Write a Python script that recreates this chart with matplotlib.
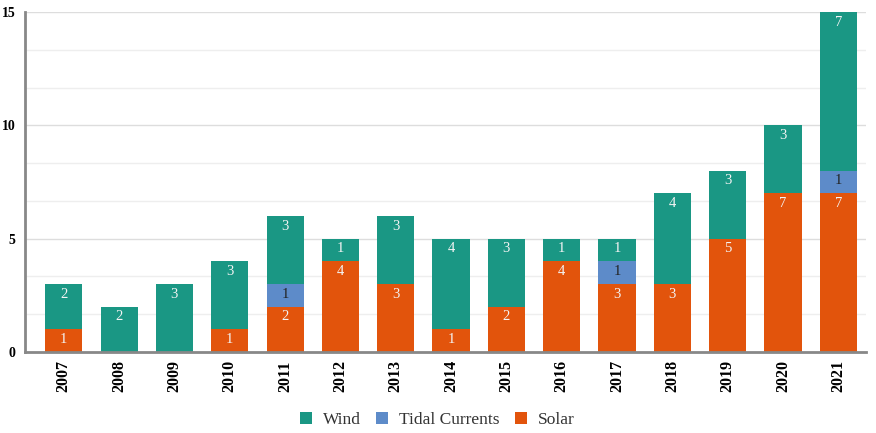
import matplotlib
matplotlib.use("Agg")
import matplotlib.pyplot as plt
import numpy as np

years = ["2007", "2008", "2009", "2010", "2011", "2012", "2013", "2014",
         "2015", "2016", "2017", "2018", "2019", "2020", "2021"]
solar = [1, 0, 0, 1, 2, 4, 3, 1, 2, 4, 3, 3, 5, 7, 7]
tidal = [0, 0, 0, 0, 1, 0, 0, 0, 0, 0, 1, 0, 0, 0, 1]
wind = [2, 2, 3, 3, 3, 1, 3, 4, 3, 1, 1, 4, 3, 3, 7]

c_wind = "#1a9784"
c_tidal = "#5d8bc9"
c_solar = "#e2540c"

plt.rcParams["font.family"] = ["Liberation Serif", "DejaVu Serif"]

fig = plt.figure(figsize=(8.76, 4.33), dpi=100)
ax = fig.add_axes([25 / 876, 1 - 352 / 433, 841 / 876, 340 / 433])

x = np.arange(len(years))
w = 0.67
solar_a = np.array(solar)
tidal_a = np.array(tidal)
wind_a = np.array(wind)

series = [
    ("Solar", solar_a, np.zeros(len(years)), c_solar, "#f4f4f4"),
    ("Tidal Currents", tidal_a, solar_a, c_tidal, "#222222"),
    ("Wind", wind_a, solar_a + tidal_a, c_wind, "#f4f4f4"),
]
handles = {}
for name, vals, bottom, col, tcol in series:
    bars = ax.bar(x, vals, w, bottom=bottom, color=col, zorder=3, label=name)
    handles[name] = bars
    for xi, v, b in zip(x, vals, bottom):
        if v > 0:
            ax.text(xi, b + v - 0.45, str(v), ha="center", va="center",
                    color=tcol, fontsize=10.5, zorder=4)

ax.set_xlim(-0.7, 14.5)
ax.set_ylim(0, 15)
ax.set_yticks([0, 5, 10, 15])
ax.set_yticks(np.arange(0, 15.01, 5 / 3), minor=True)
ax.yaxis.grid(True, which="major", color="#dddddd", linewidth=1.0, zorder=0)
ax.yaxis.grid(True, which="minor", color="#eeeeee", linewidth=1.0, zorder=0)
ax.tick_params(axis="y", which="both", length=0, pad=7, labelsize=10)
ax.set_xticks(x)
ax.set_xticklabels(years, rotation=90, fontsize=11.5, fontweight="bold")
for lab in ax.get_yticklabels():
    lab.set_fontweight("bold")
ax.tick_params(axis="x", length=0, pad=6)

for s in ["top", "right"]:
    ax.spines[s].set_visible(False)
ax.spines["left"].set_color("#888888")
ax.spines["left"].set_linewidth(2)
ax.spines["bottom"].set_color("#888888")
ax.spines["bottom"].set_linewidth(2)
ax.spines["left"].set_zorder(5)
ax.spines["bottom"].set_zorder(5)

leg = fig.legend([handles["Wind"], handles["Tidal Currents"], handles["Solar"]],
                 ["Wind", "Tidal Currents", "Solar"],
                 loc="center", bbox_to_anchor=(0.499, 1 - 420 / 433), ncol=3,
                 frameon=False, fontsize=12.5, handlelength=0.7, handleheight=0.7,
                 handletextpad=0.6, columnspacing=0.9)
for t in leg.get_texts():
    t.set_color("#333333")

fig.savefig("out.png", dpi=100)
